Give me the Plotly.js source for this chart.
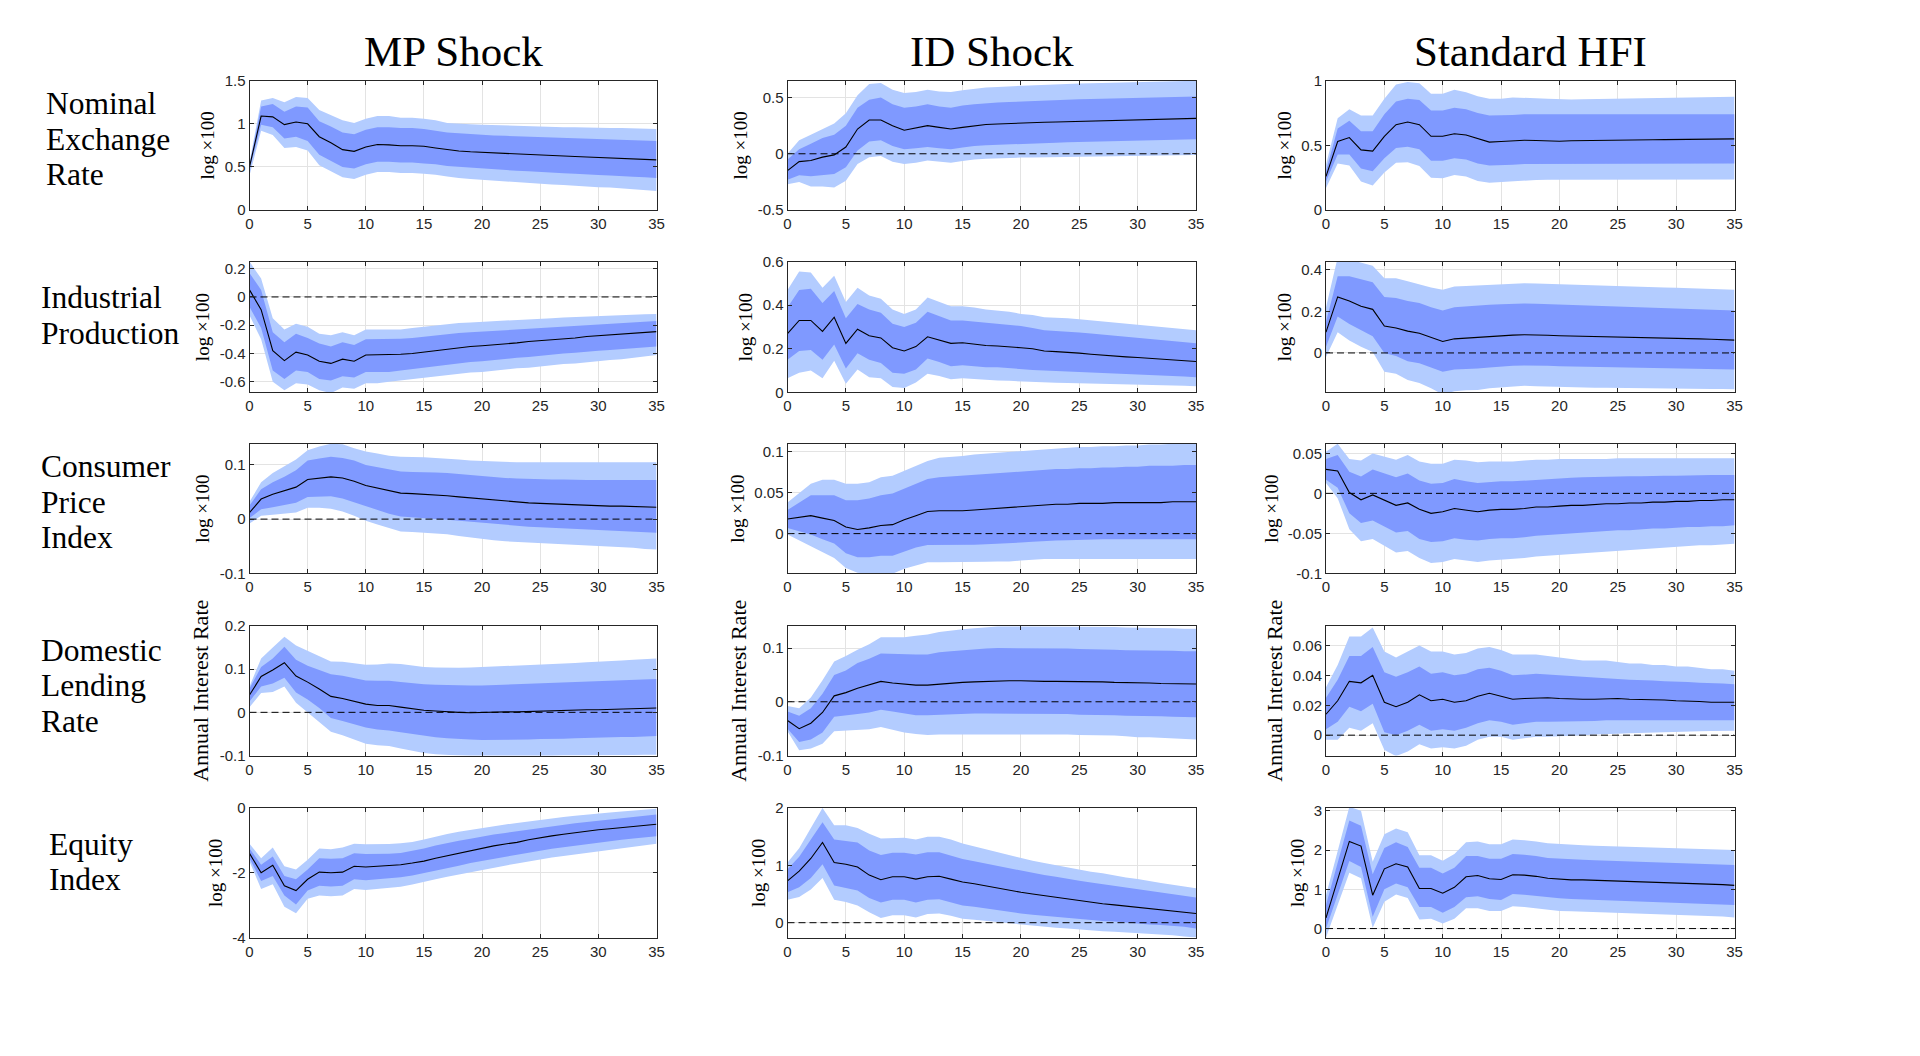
<!DOCTYPE html>
<html>
<head>
<meta charset="utf-8">
<script src="https://cdn.plot.ly/plotly-3.0.1.min.js"></script>
<style>
html,body{margin:0;padding:0;background:#fff;}
#chart{width:1920px;height:1056px;}
</style>
</head>
<body>
<div id="chart"></div>
<script>
// ---------------- DATA ----------------
const horizons = [0,1,2,3,4,5,6,7,8,9,10,11,12,13,14,15,16,17,18,19,20,21,22,23,24,25,26,27,28,29,30,31,32,33,34,35];
const shockTitles = ["MP Shock", "ID Shock", "Standard HFI"];
const rowLabels = [["Nominal","Exchange","Rate"],["Industrial","Production"],["Consumer","Price","Index"],["Domestic","Lending","Rate"],["Equity","Index"]];
const yLabels = ["log \u00d7100","log \u00d7100","log \u00d7100","Annual Interest Rate","log \u00d7100"];

// Row 1: Nominal Exchange Rate
const ner_mp_med  = [0.50,1.09,1.08,0.99,1.02,1.00,0.85,0.78,0.70,0.68,0.73,0.76,0.755,0.745,0.745,0.74,0.72,0.70,0.685,0.675,0.668,0.662,0.656,0.650,0.643,0.637,0.632,0.626,0.620,0.614,0.608,0.603,0.598,0.592,0.587,0.582];
const ner_mp_hi68 = [0.52,1.20,1.23,1.14,1.20,1.19,1.03,0.97,0.90,0.88,0.93,0.96,0.96,0.95,0.95,0.94,0.92,0.90,0.89,0.88,0.87,0.865,0.86,0.855,0.85,0.845,0.84,0.835,0.83,0.825,0.82,0.815,0.81,0.81,0.805,0.80];
const ner_mp_lo68 = [0.46,0.99,0.96,0.83,0.85,0.80,0.64,0.57,0.50,0.48,0.53,0.56,0.56,0.55,0.55,0.54,0.53,0.51,0.50,0.49,0.48,0.47,0.46,0.455,0.45,0.44,0.43,0.425,0.42,0.41,0.405,0.40,0.39,0.385,0.38,0.37];
const ner_mp_hi90 = [0.55,1.27,1.30,1.25,1.31,1.30,1.16,1.10,1.04,1.01,1.06,1.09,1.09,1.07,1.07,1.06,1.04,1.01,1.00,0.995,0.99,0.985,0.98,0.975,0.97,0.97,0.965,0.96,0.96,0.955,0.955,0.95,0.95,0.945,0.945,0.94];
const ner_mp_lo90 = [0.40,0.92,0.87,0.72,0.73,0.69,0.52,0.45,0.38,0.36,0.41,0.44,0.44,0.43,0.43,0.42,0.41,0.39,0.37,0.36,0.35,0.34,0.33,0.32,0.31,0.30,0.295,0.29,0.28,0.27,0.265,0.26,0.25,0.24,0.23,0.22];

const ner_id_med  = [-0.15,-0.07,-0.06,-0.03,-0.01,0.06,0.22,0.30,0.30,0.25,0.21,0.23,0.25,0.235,0.22,0.235,0.25,0.26,0.265,0.27,0.27,0.275,0.28,0.283,0.286,0.289,0.292,0.295,0.297,0.30,0.302,0.305,0.308,0.31,0.313,0.315];
const ner_id_hi68 = [-0.05,0.04,0.09,0.14,0.17,0.25,0.41,0.48,0.50,0.44,0.41,0.42,0.44,0.42,0.41,0.43,0.44,0.45,0.455,0.46,0.465,0.47,0.474,0.478,0.482,0.485,0.488,0.491,0.494,0.496,0.498,0.50,0.502,0.505,0.507,0.51];
const ner_id_lo68 = [-0.23,-0.19,-0.20,-0.19,-0.18,-0.12,0.03,0.11,0.12,0.07,0.04,0.05,0.06,0.05,0.04,0.055,0.07,0.075,0.08,0.085,0.09,0.093,0.096,0.099,0.102,0.105,0.108,0.11,0.113,0.115,0.118,0.12,0.122,0.125,0.127,0.13];
const ner_id_hi90 = [0.00,0.12,0.17,0.22,0.27,0.36,0.52,0.62,0.63,0.57,0.54,0.55,0.57,0.555,0.55,0.565,0.58,0.59,0.595,0.60,0.605,0.61,0.615,0.618,0.62,0.625,0.628,0.63,0.634,0.637,0.64,0.642,0.645,0.647,0.649,0.65];
const ner_id_lo90 = [-0.27,-0.25,-0.29,-0.29,-0.30,-0.24,-0.09,-0.03,-0.02,-0.07,-0.09,-0.08,-0.06,-0.07,-0.08,-0.065,-0.05,-0.045,-0.04,-0.037,-0.034,-0.032,-0.03,-0.028,-0.026,-0.024,-0.022,-0.02,-0.019,-0.017,-0.016,-0.014,-0.013,-0.012,-0.011,-0.01];

const ner_hf_med  = [0.26,0.53,0.56,0.465,0.455,0.57,0.66,0.68,0.66,0.57,0.57,0.59,0.58,0.55,0.525,0.53,0.535,0.54,0.538,0.535,0.532,0.535,0.537,0.538,0.539,0.54,0.541,0.542,0.543,0.544,0.545,0.546,0.547,0.548,0.549,0.55];
const ner_hf_hi68 = [0.30,0.63,0.69,0.61,0.61,0.74,0.84,0.86,0.85,0.77,0.77,0.79,0.78,0.75,0.73,0.73,0.735,0.74,0.74,0.74,0.74,0.74,0.74,0.74,0.74,0.74,0.74,0.74,0.74,0.74,0.74,0.74,0.74,0.74,0.74,0.74];
const ner_hf_lo68 = [0.22,0.43,0.43,0.32,0.30,0.40,0.48,0.49,0.47,0.38,0.38,0.40,0.39,0.36,0.345,0.345,0.35,0.355,0.355,0.355,0.355,0.355,0.356,0.356,0.357,0.357,0.358,0.358,0.358,0.359,0.359,0.36,0.36,0.36,0.36,0.36];
const ner_hf_hi90 = [0.35,0.71,0.78,0.73,0.73,0.86,0.97,0.99,0.98,0.90,0.90,0.93,0.91,0.88,0.86,0.86,0.87,0.87,0.865,0.86,0.855,0.855,0.857,0.858,0.86,0.86,0.862,0.864,0.865,0.866,0.868,0.87,0.871,0.872,0.874,0.875];
const ner_hf_lo90 = [0.17,0.36,0.345,0.22,0.19,0.29,0.365,0.37,0.34,0.25,0.245,0.27,0.26,0.225,0.21,0.215,0.22,0.23,0.232,0.234,0.234,0.234,0.234,0.235,0.235,0.235,0.235,0.235,0.235,0.235,0.235,0.235,0.235,0.235,0.235,0.235];

// Row 2: Industrial Production
const ip_mp_med  = [0.05,-0.09,-0.38,-0.45,-0.39,-0.41,-0.455,-0.47,-0.44,-0.455,-0.41,-0.41,-0.41,-0.405,-0.40,-0.39,-0.38,-0.365,-0.36,-0.35,-0.345,-0.34,-0.33,-0.325,-0.315,-0.31,-0.30,-0.295,-0.29,-0.28,-0.275,-0.27,-0.265,-0.26,-0.255,-0.245];
const ip_mp_hi68 = [0.17,0.05,-0.25,-0.32,-0.26,-0.29,-0.33,-0.35,-0.32,-0.34,-0.30,-0.30,-0.30,-0.295,-0.29,-0.28,-0.27,-0.26,-0.255,-0.25,-0.245,-0.24,-0.235,-0.23,-0.225,-0.22,-0.215,-0.21,-0.205,-0.20,-0.195,-0.19,-0.185,-0.18,-0.175,-0.17];
const ip_mp_lo68 = [-0.07,-0.22,-0.52,-0.58,-0.52,-0.53,-0.58,-0.59,-0.56,-0.57,-0.53,-0.53,-0.53,-0.52,-0.51,-0.50,-0.49,-0.475,-0.47,-0.46,-0.455,-0.445,-0.44,-0.43,-0.425,-0.415,-0.41,-0.40,-0.395,-0.385,-0.38,-0.375,-0.37,-0.36,-0.355,-0.35];
const ip_mp_hi90 = [0.25,0.13,-0.15,-0.23,-0.19,-0.21,-0.26,-0.27,-0.25,-0.27,-0.23,-0.23,-0.23,-0.23,-0.22,-0.21,-0.20,-0.19,-0.185,-0.18,-0.175,-0.17,-0.166,-0.162,-0.158,-0.154,-0.15,-0.146,-0.142,-0.138,-0.135,-0.132,-0.129,-0.126,-0.123,-0.12];
const ip_mp_lo90 = [-0.13,-0.30,-0.60,-0.66,-0.61,-0.62,-0.66,-0.68,-0.64,-0.65,-0.61,-0.61,-0.60,-0.59,-0.58,-0.57,-0.56,-0.55,-0.54,-0.535,-0.53,-0.52,-0.51,-0.505,-0.50,-0.49,-0.48,-0.475,-0.47,-0.46,-0.455,-0.445,-0.44,-0.43,-0.42,-0.41];

const ip_id_med  = [0.27,0.33,0.33,0.28,0.345,0.225,0.29,0.26,0.25,0.205,0.19,0.21,0.255,0.24,0.225,0.228,0.222,0.215,0.213,0.21,0.205,0.20,0.19,0.187,0.185,0.18,0.175,0.17,0.167,0.163,0.16,0.157,0.154,0.15,0.147,0.142];
const ip_id_hi68 = [0.39,0.47,0.475,0.41,0.465,0.34,0.405,0.38,0.365,0.315,0.30,0.32,0.37,0.35,0.33,0.33,0.325,0.32,0.315,0.31,0.305,0.295,0.285,0.282,0.28,0.275,0.27,0.265,0.26,0.255,0.25,0.245,0.24,0.235,0.23,0.225];
const ip_id_lo68 = [0.15,0.19,0.195,0.15,0.22,0.11,0.18,0.15,0.135,0.09,0.085,0.105,0.155,0.14,0.12,0.125,0.12,0.115,0.115,0.11,0.107,0.103,0.10,0.098,0.096,0.094,0.092,0.09,0.088,0.086,0.084,0.08,0.078,0.075,0.073,0.07];
const ip_id_hi90 = [0.47,0.555,0.55,0.48,0.535,0.415,0.48,0.445,0.43,0.38,0.36,0.38,0.435,0.415,0.395,0.395,0.39,0.38,0.375,0.37,0.36,0.355,0.345,0.343,0.34,0.335,0.33,0.325,0.32,0.315,0.31,0.305,0.30,0.295,0.29,0.285];
const ip_id_lo90 = [0.065,0.09,0.10,0.065,0.145,0.04,0.105,0.07,0.065,0.025,0.02,0.045,0.085,0.075,0.06,0.065,0.062,0.057,0.055,0.053,0.05,0.047,0.045,0.044,0.043,0.042,0.041,0.04,0.039,0.037,0.035,0.034,0.032,0.031,0.03,0.028];

const ip_hf_med  = [0.10,0.27,0.25,0.225,0.21,0.13,0.12,0.105,0.095,0.075,0.055,0.068,0.072,0.074,0.08,0.083,0.086,0.088,0.088,0.085,0.083,0.082,0.081,0.08,0.079,0.078,0.077,0.076,0.075,0.073,0.072,0.07,0.068,0.066,0.064,0.062];
const ip_hf_hi68 = [0.15,0.37,0.37,0.355,0.34,0.27,0.265,0.25,0.24,0.22,0.205,0.22,0.225,0.228,0.232,0.235,0.237,0.238,0.237,0.235,0.232,0.23,0.228,0.226,0.225,0.223,0.222,0.22,0.218,0.216,0.215,0.213,0.211,0.209,0.207,0.205];
const ip_hf_lo68 = [0.03,0.175,0.14,0.11,0.08,0.0,-0.015,-0.04,-0.05,-0.07,-0.09,-0.08,-0.078,-0.075,-0.07,-0.065,-0.062,-0.06,-0.06,-0.062,-0.064,-0.065,-0.066,-0.067,-0.068,-0.069,-0.07,-0.071,-0.072,-0.073,-0.074,-0.075,-0.076,-0.077,-0.078,-0.08];
const ip_hf_hi90 = [0.22,0.46,0.45,0.435,0.42,0.36,0.36,0.345,0.33,0.315,0.305,0.32,0.322,0.325,0.33,0.332,0.335,0.336,0.335,0.333,0.33,0.328,0.326,0.325,0.323,0.322,0.32,0.318,0.317,0.315,0.314,0.312,0.31,0.309,0.307,0.305];
const ip_hf_lo90 = [-0.02,0.10,0.06,0.03,0.005,-0.09,-0.10,-0.13,-0.145,-0.17,-0.20,-0.185,-0.18,-0.178,-0.17,-0.165,-0.16,-0.158,-0.16,-0.162,-0.165,-0.166,-0.167,-0.168,-0.168,-0.169,-0.17,-0.17,-0.171,-0.172,-0.172,-0.173,-0.173,-0.174,-0.174,-0.175];

// Row 3: Consumer Price Index
const cpi_mp_med  = [0.012,0.037,0.046,0.053,0.059,0.073,0.076,0.078,0.076,0.07,0.062,0.057,0.052,0.048,0.047,0.046,0.045,0.043,0.041,0.039,0.037,0.035,0.033,0.031,0.030,0.029,0.028,0.027,0.026,0.025,0.025,0.024,0.024,0.023,0.023,0.022];
const cpi_mp_hi68 = [0.025,0.055,0.068,0.078,0.09,0.108,0.112,0.115,0.113,0.108,0.10,0.096,0.092,0.088,0.087,0.087,0.086,0.085,0.083,0.081,0.079,0.077,0.076,0.075,0.074,0.073,0.073,0.073,0.072,0.072,0.072,0.072,0.072,0.072,0.072,0.072];
const cpi_mp_lo68 = [0.002,0.018,0.022,0.026,0.03,0.041,0.042,0.042,0.038,0.031,0.023,0.016,0.01,0.005,0.003,0.002,0.0,-0.001,-0.003,-0.005,-0.007,-0.009,-0.011,-0.012,-0.014,-0.015,-0.016,-0.017,-0.018,-0.019,-0.02,-0.021,-0.022,-0.023,-0.024,-0.025];
const cpi_mp_hi90 = [0.032,0.068,0.085,0.098,0.11,0.127,0.134,0.139,0.138,0.131,0.125,0.121,0.117,0.115,0.115,0.114,0.113,0.112,0.11,0.108,0.107,0.106,0.106,0.105,0.105,0.105,0.105,0.104,0.104,0.104,0.104,0.104,0.105,0.105,0.105,0.105];
const cpi_mp_lo90 = [-0.008,0.006,0.008,0.01,0.012,0.021,0.021,0.019,0.014,0.006,-0.003,-0.01,-0.017,-0.023,-0.024,-0.025,-0.026,-0.028,-0.031,-0.034,-0.037,-0.039,-0.041,-0.042,-0.043,-0.045,-0.046,-0.047,-0.048,-0.049,-0.05,-0.051,-0.052,-0.053,-0.055,-0.056];

const cpi_id_med  = [0.018,0.02,0.022,0.019,0.016,0.008,0.005,0.007,0.01,0.011,0.017,0.022,0.027,0.028,0.028,0.028,0.029,0.03,0.031,0.032,0.033,0.034,0.035,0.036,0.036,0.037,0.037,0.037,0.038,0.038,0.038,0.038,0.038,0.039,0.039,0.039];
const cpi_id_hi68 = [0.029,0.038,0.047,0.047,0.047,0.041,0.041,0.043,0.047,0.049,0.055,0.061,0.067,0.069,0.07,0.071,0.072,0.073,0.074,0.075,0.076,0.077,0.078,0.079,0.079,0.08,0.08,0.081,0.081,0.082,0.082,0.083,0.083,0.083,0.084,0.084];
const cpi_id_lo68 = [0.007,0.003,-0.001,-0.007,-0.012,-0.024,-0.029,-0.029,-0.027,-0.027,-0.022,-0.017,-0.014,-0.014,-0.014,-0.014,-0.0135,-0.013,-0.0125,-0.012,-0.011,-0.01,-0.009,-0.0085,-0.008,-0.0075,-0.0072,-0.007,-0.007,-0.007,-0.007,-0.007,-0.007,-0.007,-0.007,-0.007];
const cpi_id_hi90 = [0.038,0.05,0.061,0.066,0.066,0.061,0.061,0.063,0.069,0.071,0.077,0.083,0.089,0.093,0.094,0.095,0.097,0.098,0.099,0.10,0.101,0.102,0.103,0.104,0.105,0.106,0.106,0.107,0.107,0.108,0.108,0.109,0.109,0.11,0.11,0.11];
const cpi_id_lo90 = [-0.001,-0.008,-0.015,-0.022,-0.03,-0.042,-0.048,-0.049,-0.049,-0.049,-0.043,-0.039,-0.035,-0.035,-0.035,-0.035,-0.035,-0.0345,-0.034,-0.034,-0.033,-0.032,-0.031,-0.031,-0.031,-0.031,-0.031,-0.031,-0.031,-0.031,-0.031,-0.031,-0.031,-0.031,-0.031,-0.031];

const cpi_hf_med  = [0.03,0.028,0.001,-0.008,-0.002,-0.008,-0.015,-0.012,-0.02,-0.025,-0.023,-0.019,-0.021,-0.023,-0.021,-0.02,-0.02,-0.019,-0.017,-0.017,-0.016,-0.015,-0.015,-0.014,-0.013,-0.013,-0.012,-0.012,-0.011,-0.011,-0.01,-0.01,-0.009,-0.009,-0.008,-0.008];
const cpi_hf_hi68 = [0.043,0.048,0.027,0.021,0.03,0.025,0.02,0.025,0.016,0.012,0.013,0.018,0.015,0.013,0.014,0.015,0.015,0.016,0.017,0.018,0.019,0.0195,0.02,0.0205,0.021,0.021,0.0215,0.0215,0.022,0.022,0.022,0.0225,0.0225,0.023,0.023,0.023];
const cpi_hf_lo68 = [0.017,0.007,-0.025,-0.037,-0.034,-0.041,-0.049,-0.047,-0.057,-0.061,-0.06,-0.056,-0.058,-0.059,-0.057,-0.056,-0.056,-0.055,-0.053,-0.052,-0.051,-0.05,-0.049,-0.048,-0.047,-0.046,-0.046,-0.045,-0.044,-0.044,-0.043,-0.042,-0.042,-0.041,-0.041,-0.04];
const cpi_hf_hi90 = [0.052,0.062,0.043,0.041,0.05,0.046,0.042,0.048,0.04,0.037,0.037,0.042,0.041,0.039,0.04,0.04,0.04,0.041,0.042,0.042,0.043,0.043,0.043,0.043,0.043,0.044,0.044,0.044,0.044,0.044,0.044,0.044,0.044,0.044,0.044,0.044];
const cpi_hf_lo90 = [0.013,-0.006,-0.045,-0.06,-0.057,-0.066,-0.074,-0.072,-0.081,-0.087,-0.086,-0.082,-0.084,-0.086,-0.084,-0.083,-0.082,-0.081,-0.079,-0.078,-0.077,-0.076,-0.075,-0.074,-0.073,-0.072,-0.071,-0.07,-0.069,-0.068,-0.067,-0.066,-0.065,-0.065,-0.064,-0.063];

// Row 4: Domestic Lending Rate
const lr_mp_med  = [0.04,0.083,0.098,0.115,0.084,0.07,0.054,0.037,0.032,0.025,0.019,0.016,0.016,0.012,0.008,0.005,0.003,0.001,0.0,-0.001,0.0,0.0,0.001,0.001,0.002,0.003,0.003,0.004,0.005,0.006,0.006,0.007,0.008,0.008,0.009,0.01];
const lr_mp_hi68 = [0.055,0.105,0.125,0.152,0.122,0.108,0.098,0.088,0.085,0.08,0.074,0.073,0.073,0.07,0.067,0.065,0.064,0.063,0.063,0.062,0.062,0.063,0.064,0.065,0.066,0.067,0.068,0.069,0.07,0.071,0.072,0.073,0.074,0.075,0.076,0.077];
const lr_mp_lo68 = [0.025,0.06,0.067,0.08,0.046,0.03,0.01,-0.013,-0.02,-0.028,-0.035,-0.04,-0.042,-0.046,-0.05,-0.055,-0.058,-0.06,-0.062,-0.063,-0.064,-0.064,-0.064,-0.063,-0.063,-0.062,-0.062,-0.061,-0.06,-0.059,-0.059,-0.058,-0.057,-0.057,-0.056,-0.055];
const lr_mp_hi90 = [0.06,0.125,0.15,0.175,0.155,0.143,0.13,0.118,0.117,0.114,0.11,0.111,0.113,0.112,0.108,0.105,0.104,0.103,0.103,0.104,0.105,0.106,0.107,0.108,0.109,0.11,0.111,0.113,0.114,0.116,0.117,0.119,0.12,0.122,0.123,0.125];
const lr_mp_lo90 = [0.012,0.045,0.047,0.06,0.022,0.0,-0.022,-0.045,-0.053,-0.063,-0.073,-0.076,-0.078,-0.084,-0.089,-0.094,-0.097,-0.099,-0.1,-0.101,-0.102,-0.102,-0.102,-0.102,-0.101,-0.101,-0.101,-0.1,-0.1,-0.1,-0.1,-0.099,-0.099,-0.099,-0.098,-0.098];

const lr_id_med  = [-0.035,-0.05,-0.04,-0.02,0.011,0.017,0.025,0.031,0.038,0.035,0.033,0.031,0.031,0.033,0.035,0.036,0.037,0.038,0.038,0.039,0.039,0.038,0.038,0.038,0.038,0.037,0.037,0.037,0.036,0.036,0.035,0.035,0.034,0.034,0.033,0.033];
const lr_id_hi68 = [-0.018,-0.026,-0.012,0.015,0.05,0.058,0.072,0.08,0.09,0.089,0.088,0.088,0.088,0.092,0.094,0.096,0.098,0.099,0.10,0.10,0.10,0.10,0.10,0.099,0.099,0.098,0.098,0.097,0.097,0.096,0.096,0.095,0.095,0.095,0.094,0.094];
const lr_id_lo68 = [-0.05,-0.075,-0.07,-0.057,-0.028,-0.026,-0.023,-0.02,-0.015,-0.018,-0.022,-0.025,-0.025,-0.024,-0.023,-0.023,-0.022,-0.022,-0.022,-0.022,-0.022,-0.022,-0.023,-0.023,-0.023,-0.024,-0.024,-0.025,-0.025,-0.026,-0.026,-0.027,-0.027,-0.028,-0.028,-0.029];
const lr_id_hi90 = [-0.008,-0.012,0.008,0.04,0.075,0.085,0.097,0.107,0.12,0.12,0.12,0.123,0.125,0.13,0.133,0.135,0.137,0.139,0.14,0.14,0.14,0.14,0.14,0.14,0.14,0.14,0.139,0.139,0.139,0.138,0.138,0.138,0.137,0.137,0.136,0.136];
const lr_id_lo90 = [-0.055,-0.09,-0.087,-0.078,-0.055,-0.054,-0.052,-0.051,-0.047,-0.052,-0.057,-0.06,-0.062,-0.061,-0.061,-0.061,-0.061,-0.061,-0.06,-0.06,-0.06,-0.06,-0.061,-0.061,-0.061,-0.062,-0.062,-0.063,-0.063,-0.064,-0.066,-0.066,-0.067,-0.068,-0.069,-0.07];

const lr_hf_med  = [0.014,0.023,0.036,0.035,0.04,0.022,0.019,0.022,0.027,0.023,0.024,0.022,0.023,0.026,0.028,0.026,0.024,0.0245,0.025,0.025,0.0245,0.024,0.024,0.024,0.0245,0.0245,0.024,0.024,0.0235,0.0235,0.023,0.023,0.0225,0.022,0.022,0.022];
const lr_hf_hi68 = [0.025,0.037,0.053,0.053,0.059,0.042,0.039,0.042,0.046,0.041,0.042,0.04,0.041,0.044,0.045,0.043,0.04,0.0405,0.041,0.0405,0.04,0.039,0.0385,0.038,0.038,0.0375,0.037,0.037,0.0365,0.036,0.036,0.0355,0.035,0.035,0.0345,0.034];
const lr_hf_lo68 = [0.004,0.009,0.019,0.016,0.021,0.002,0.0,0.003,0.007,0.003,0.004,0.003,0.005,0.008,0.01,0.009,0.007,0.008,0.009,0.009,0.009,0.009,0.009,0.0095,0.01,0.01,0.01,0.01,0.01,0.01,0.01,0.01,0.01,0.01,0.01,0.01];
const lr_hf_hi90 = [0.032,0.047,0.066,0.066,0.072,0.056,0.052,0.056,0.06,0.056,0.056,0.054,0.055,0.058,0.059,0.057,0.054,0.054,0.054,0.053,0.052,0.051,0.05,0.05,0.05,0.049,0.048,0.048,0.047,0.047,0.046,0.046,0.045,0.044,0.044,0.043];
const lr_hf_lo90 = [-0.003,-0.003,0.005,0.003,0.008,-0.01,-0.014,-0.011,-0.006,-0.009,-0.008,-0.009,-0.007,-0.003,-0.001,-0.001,-0.003,-0.002,-0.001,-0.001,-0.0005,0.0,0.0,0.0005,0.001,0.001,0.0012,0.0015,0.0018,0.002,0.0022,0.0024,0.0026,0.0028,0.003,0.003];

// Row 5: Equity Index
const eq_mp_med  = [-1.4,-2.0,-1.77,-2.4,-2.55,-2.2,-1.98,-2.0,-1.98,-1.8,-1.82,-1.8,-1.78,-1.75,-1.7,-1.64,-1.55,-1.47,-1.4,-1.33,-1.23,-1.17,-1.11,-1.06,-0.98,-0.91,-0.86,-0.81,-0.76,-0.71,-0.67,-0.64,-0.6,-0.57,-0.535,-0.5];
const eq_mp_hi68 = [-1.25,-1.75,-1.5,-2.1,-2.2,-1.9,-1.55,-1.57,-1.55,-1.4,-1.42,-1.42,-1.41,-1.39,-1.33,-1.25,-1.16,-1.08,-1.01,-0.95,-0.88,-0.82,-0.77,-0.72,-0.66,-0.6,-0.55,-0.51,-0.47,-0.43,-0.39,-0.35,-0.31,-0.28,-0.24,-0.2];
const eq_mp_lo68 = [-1.55,-2.25,-2.1,-2.7,-2.98,-2.55,-2.4,-2.42,-2.4,-2.2,-2.23,-2.2,-2.18,-2.14,-2.08,-2.01,-1.93,-1.85,-1.78,-1.7,-1.63,-1.56,-1.5,-1.44,-1.38,-1.31,-1.26,-1.21,-1.16,-1.11,-1.06,-1.02,-0.98,-0.94,-0.9,-0.87];
const eq_mp_hi90 = [-1.1,-1.55,-1.22,-1.8,-1.9,-1.6,-1.25,-1.27,-1.22,-1.1,-1.12,-1.12,-1.11,-1.09,-1.05,-0.97,-0.88,-0.8,-0.73,-0.67,-0.61,-0.56,-0.51,-0.46,-0.41,-0.36,-0.32,-0.28,-0.24,-0.2,-0.17,-0.14,-0.11,-0.08,-0.05,-0.02];
const eq_mp_lo90 = [-1.65,-2.5,-2.35,-3.05,-3.25,-2.8,-2.7,-2.72,-2.7,-2.5,-2.53,-2.5,-2.47,-2.43,-2.36,-2.29,-2.2,-2.12,-2.05,-1.97,-1.9,-1.83,-1.77,-1.71,-1.65,-1.58,-1.53,-1.48,-1.43,-1.38,-1.33,-1.28,-1.23,-1.19,-1.14,-1.1];

const eq_id_med  = [0.73,0.9,1.12,1.4,1.05,1.02,0.97,0.83,0.75,0.8,0.8,0.76,0.8,0.81,0.76,0.71,0.68,0.64,0.6,0.56,0.53,0.5,0.47,0.44,0.41,0.38,0.36,0.33,0.31,0.29,0.26,0.24,0.22,0.2,0.18,0.16];
const eq_id_hi68 = [0.93,1.15,1.45,1.75,1.45,1.43,1.4,1.26,1.18,1.22,1.22,1.19,1.23,1.23,1.17,1.11,1.07,1.03,0.98,0.94,0.9,0.87,0.83,0.8,0.76,0.73,0.7,0.67,0.64,0.61,0.58,0.55,0.52,0.5,0.47,0.44];
const eq_id_lo68 = [0.53,0.62,0.78,1.02,0.65,0.6,0.56,0.43,0.35,0.4,0.4,0.35,0.4,0.41,0.36,0.3,0.28,0.25,0.21,0.18,0.16,0.14,0.12,0.1,0.08,0.06,0.05,0.03,0.02,0.0,-0.01,-0.03,-0.04,-0.05,-0.07,-0.1];
const eq_id_hi90 = [1.05,1.3,1.65,2.0,1.7,1.7,1.65,1.55,1.47,1.48,1.48,1.45,1.5,1.5,1.45,1.38,1.33,1.28,1.22,1.17,1.13,1.08,1.04,1.0,0.97,0.93,0.89,0.86,0.82,0.79,0.76,0.72,0.69,0.66,0.63,0.6];
const eq_id_lo90 = [0.4,0.45,0.58,0.78,0.4,0.36,0.3,0.18,0.08,0.13,0.13,0.09,0.15,0.16,0.12,0.07,0.05,0.03,0.0,-0.02,-0.04,-0.06,-0.08,-0.09,-0.1,-0.12,-0.13,-0.15,-0.16,-0.17,-0.18,-0.2,-0.21,-0.22,-0.24,-0.26];

const eq_hf_med  = [0.27,1.25,2.22,2.1,0.85,1.52,1.65,1.57,1.02,1.02,0.9,1.05,1.32,1.35,1.27,1.25,1.37,1.36,1.33,1.28,1.26,1.24,1.24,1.23,1.22,1.21,1.2,1.2,1.19,1.18,1.17,1.16,1.14,1.13,1.12,1.1];
const eq_hf_hi68 = [0.6,1.65,2.75,2.62,1.38,2.05,2.2,2.08,1.55,1.55,1.4,1.55,1.85,1.85,1.78,1.78,1.9,1.88,1.85,1.8,1.78,1.76,1.75,1.74,1.73,1.72,1.71,1.7,1.69,1.68,1.67,1.66,1.65,1.64,1.63,1.62];
const eq_hf_lo68 = [0.0,0.85,1.72,1.57,0.3,1.0,1.15,1.05,0.55,0.55,0.4,0.55,0.8,0.82,0.75,0.73,0.88,0.86,0.83,0.79,0.77,0.75,0.74,0.73,0.72,0.71,0.7,0.69,0.68,0.67,0.66,0.65,0.64,0.63,0.62,0.6];
const eq_hf_hi90 = [0.85,2.0,3.1,3.0,1.7,2.4,2.55,2.45,1.87,1.87,1.73,1.9,2.2,2.22,2.15,2.15,2.27,2.25,2.22,2.17,2.15,2.13,2.12,2.11,2.1,2.09,2.08,2.07,2.06,2.05,2.04,2.03,2.02,2.02,2.01,2.0];
const eq_hf_lo90 = [-0.23,0.62,1.42,1.28,0.02,0.68,0.87,0.78,0.23,0.25,0.13,0.25,0.52,0.52,0.45,0.45,0.57,0.55,0.52,0.48,0.45,0.44,0.43,0.42,0.41,0.4,0.39,0.38,0.37,0.36,0.35,0.34,0.33,0.32,0.31,0.28];

// Axis ranges and ticks per panel (row-major)
const yRanges = [
  [0,1.5],[-0.5,0.65],[0,1],
  [-0.675,0.25],[0,0.6],[-0.19,0.44],
  [-0.1,0.139],[-0.0486,0.11],[-0.1,0.062],
  [-0.1,0.2],[-0.1,0.141],[-0.0136,0.073],
  [-4,0],[-0.26,2],[-0.23,3.07]
];
const yTicks = [
  [0,0.5,1,1.5],[-0.5,0,0.5],[0,0.5,1],
  [-0.6,-0.4,-0.2,0,0.2],[0,0.2,0.4,0.6],[0,0.2,0.4],
  [-0.1,0,0.1],[0,0.05,0.1],[-0.1,-0.05,0,0.05],
  [-0.1,0,0.1,0.2],[-0.1,0,0.1],[0,0.02,0.04,0.06],
  [-4,-2,0],[0,1,2],[0,1,2,3]
];
const xTicks = [0,5,10,15,20,25,30,35];

// ---------------- BUILD ----------------
const panels = [
  [ner_mp_med,ner_mp_lo68,ner_mp_hi68,ner_mp_lo90,ner_mp_hi90],
  [ner_id_med,ner_id_lo68,ner_id_hi68,ner_id_lo90,ner_id_hi90],
  [ner_hf_med,ner_hf_lo68,ner_hf_hi68,ner_hf_lo90,ner_hf_hi90],
  [ip_mp_med,ip_mp_lo68,ip_mp_hi68,ip_mp_lo90,ip_mp_hi90],
  [ip_id_med,ip_id_lo68,ip_id_hi68,ip_id_lo90,ip_id_hi90],
  [ip_hf_med,ip_hf_lo68,ip_hf_hi68,ip_hf_lo90,ip_hf_hi90],
  [cpi_mp_med,cpi_mp_lo68,cpi_mp_hi68,cpi_mp_lo90,cpi_mp_hi90],
  [cpi_id_med,cpi_id_lo68,cpi_id_hi68,cpi_id_lo90,cpi_id_hi90],
  [cpi_hf_med,cpi_hf_lo68,cpi_hf_hi68,cpi_hf_lo90,cpi_hf_hi90],
  [lr_mp_med,lr_mp_lo68,lr_mp_hi68,lr_mp_lo90,lr_mp_hi90],
  [lr_id_med,lr_id_lo68,lr_id_hi68,lr_id_lo90,lr_id_hi90],
  [lr_hf_med,lr_hf_lo68,lr_hf_hi68,lr_hf_lo90,lr_hf_hi90],
  [eq_mp_med,eq_mp_lo68,eq_mp_hi68,eq_mp_lo90,eq_mp_hi90],
  [eq_id_med,eq_id_lo68,eq_id_hi68,eq_id_lo90,eq_id_hi90],
  [eq_hf_med,eq_hf_lo68,eq_hf_hi68,eq_hf_lo90,eq_hf_hi90]
];

const W = 1920, H = 1056;
const colPx = [[249.5,656.5],[787.5,1196],[1326,1734.5]];
const rowPx = [[80.7,210],[261.6,392.4],[443.8,573.3],[626,755.5],[808,937.6]];
const OUTER = "#b3ccff", INNER = "#7f99ff";
const AXC = "#262626";
const SERIF = "'Liberation Serif', 'DejaVu Serif', serif";
const SANS = "'Liberation Sans', Arial, Helvetica, sans-serif";

const traces = [];
const layout = {
  width: W, height: H,
  margin: {l:0, r:0, t:0, b:0},
  paper_bgcolor: "#ffffff", plot_bgcolor: "#ffffff",
  showlegend: false,
  annotations: []
};

panels.forEach((p, i) => {
  const r = Math.floor(i/3), c = i % 3;
  const n = i + 1;
  const xa = n === 1 ? "x" : "x" + n;
  const ya = n === 1 ? "y" : "y" + n;
  const [med, lo68, hi68, lo90, hi90] = p;
  const base = {x: horizons, xaxis: xa, yaxis: ya, mode: "lines", hoverinfo: "skip"};
  traces.push(Object.assign({}, base, {y: lo90, line: {width: 0, color: OUTER}}));
  traces.push(Object.assign({}, base, {y: hi90, line: {width: 0, color: OUTER}, fill: "tonexty", fillcolor: OUTER}));
  traces.push(Object.assign({}, base, {y: lo68, line: {width: 0, color: INNER}}));
  traces.push(Object.assign({}, base, {y: hi68, line: {width: 0, color: INNER}, fill: "tonexty", fillcolor: INNER}));
  const yr = yRanges[i];
  if (yr[0] < 0 && yr[1] > 0) {
    traces.push(Object.assign({}, base, {x: [horizons[0], horizons[horizons.length-1]], y: [0, 0],
      line: {width: 1, color: "#000000", dash: "7px,4px"}}));
  }
  traces.push(Object.assign({}, base, {y: med, line: {width: 1.1, color: "#000000"}}));

  const common = {
    showline: true, linecolor: AXC, linewidth: 1, mirror: "ticks",
    ticks: "inside", ticklen: 4, tickcolor: AXC, tickwidth: 1,
    showgrid: true, gridcolor: "#e3e3e3", gridwidth: 1,
    zeroline: false, fixedrange: true,
    tickfont: {family: SANS, size: 15, color: AXC}
  };
  layout["xaxis" + (n === 1 ? "" : n)] = Object.assign({}, common, {
    domain: [colPx[c][0]/W, colPx[c][1]/W],
    anchor: ya, range: [0, 35],
    tickmode: "array", tickvals: xTicks, ticktext: xTicks.map(String)
  });
  layout["yaxis" + (n === 1 ? "" : n)] = Object.assign({}, common, {
    domain: [1 - rowPx[r][1]/H, 1 - rowPx[r][0]/H],
    anchor: xa, range: yr,
    tickmode: "array", tickvals: yTicks[i], ticktext: yTicks[i].map(String),
    title: {text: yLabels[r], font: {family: SERIF, size: (r === 3 ? 22 : 19), color: "#000"}, standoff: 4}
  });
});

// Column titles
shockTitles.forEach((t, c) => {
  layout.annotations.push({
    text: t, xref: "paper", yref: "paper",
    x: (colPx[c][0] + colPx[c][1]) / 2 / W, y: 1 - 52/H,
    xanchor: "center", yanchor: "middle", showarrow: false,
    font: {family: SERIF, size: 43, color: "#000"}
  });
});

// Row labels
const rowLabelX = [43.5, 38.5, 38.5, 38.5, 46.5];
const rowLabelCenter = [139.4, 315.4, 502.4, 685.8, 862];
rowLabels.forEach((lines, r) => {
  const nL = lines.length;
  lines.forEach((txt, k) => {
    const yc = rowLabelCenter[r] + (k - (nL - 1)/2) * 35.5;
    layout.annotations.push({
      text: txt, xref: "paper", yref: "paper",
      x: rowLabelX[r]/W, y: 1 - yc/H,
      xanchor: "left", yanchor: "middle", showarrow: false, align: "left",
      font: {family: SERIF, size: 31.5, color: "#000"}
    });
  });
});

Plotly.newPlot("chart", traces, layout, {staticPlot: true, displayModeBar: false});
</script>
</body>
</html>
